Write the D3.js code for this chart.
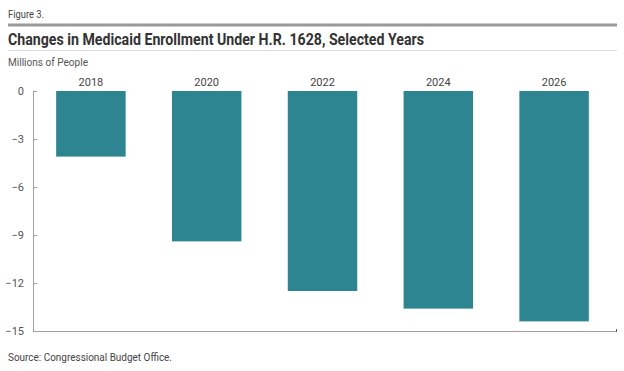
<!DOCTYPE html>
<html>
<head>
<meta charset="utf-8">
<script src="https://cdn.jsdelivr.net/npm/d3@7"></script>
<style>
  body { margin: 0; background: #fff; }
  svg text { font-family: Roboto, "Liberation Sans", sans-serif; }
</style>
</head>
<body>
<script>
const years = ["2018", "2020", "2022", "2024", "2026"];
const enrollmentChange = [-4.1, -9.4, -12.5, -13.6, -14.4];
const yTicks = [0, -3, -6, -9, -12, -15];

const width = 624,
  height = 371,
  margin = { top: 91, right: 12, bottom: 40, left: 33 };

const svg = d3
  .select("body")
  .append("svg")
  .attr("width", width)
  .attr("height", height);

// header
svg.append("text")
  .attr("x", 8).attr("y", 18)
  .attr("font-size", 11).attr("fill", "#444")
  .attr("textLength", 36).attr("lengthAdjust", "spacingAndGlyphs")
  .text("Figure 3.");

svg.append("line")
  .attr("x1", 8).attr("x2", 617).attr("y1", 25).attr("y2", 25)
  .attr("stroke", "#9a9a9a").attr("stroke-width", 3);

svg.append("text")
  .attr("x", 8).attr("y", 45)
  .attr("font-size", 16).attr("font-weight", "bold").attr("fill", "#333")
  .attr("textLength", 416).attr("lengthAdjust", "spacingAndGlyphs")
  .text("Changes in Medicaid Enrollment Under H.R. 1628, Selected Years");

svg.append("line")
  .attr("x1", 8).attr("x2", 617).attr("y1", 50.5).attr("y2", 50.5)
  .attr("stroke", "#dddddd").attr("stroke-width", 1);

svg.append("text")
  .attr("x", 8).attr("y", 66)
  .attr("font-size", 10.5).attr("fill", "#555")
  .attr("textLength", 80).attr("lengthAdjust", "spacingAndGlyphs")
  .text("Millions of People");

const x = d3
  .scaleBand()
  .domain(years)
  .range([margin.left, 612])
  .paddingInner(0.4)
  .paddingOuter(0.2);

const y = d3
  .scaleLinear()
  .domain([0, -15])
  .range([margin.top, 331]);

// bars
svg.selectAll("rect.bar")
  .data(years)
  .enter()
  .append("rect")
  .attr("class", "bar")
  .attr("x", d => x(d))
  .attr("y", y(0))
  .attr("width", x.bandwidth())
  .attr("height", (d, i) => y(enrollmentChange[i]) - y(0))
  .attr("fill", "#2e8592");

// year labels above bars
svg.selectAll("text.year")
  .data(years)
  .enter()
  .append("text")
  .attr("class", "year")
  .attr("x", d => x(d) + x.bandwidth() / 2)
  .attr("y", 86)
  .attr("text-anchor", "middle")
  .attr("font-size", 11)
  .attr("fill", "#444")
  .text(d => d);

// y axis
const yAxis = svg.append("g")
  .attr("transform", `translate(${margin.left},0)`)
  .call(
    d3.axisLeft(y)
      .tickValues(yTicks)
      .tickSize(-4)
      .tickPadding(9)
      .tickFormat(d => d === 0 ? "0" : "\u2212" + Math.abs(d))
  );
yAxis.select(".domain").attr("stroke", "#a0a0a0");
yAxis.selectAll(".tick line").attr("stroke", "#a0a0a0");
yAxis.selectAll(".tick text")
  .attr("font-size", 11)
  .attr("fill", "#555")
  .style("font-family", "Roboto, sans-serif");

// bottom baseline
svg.append("line")
  .attr("x1", margin.left).attr("x2", 617)
  .attr("y1", y(-15) + 0.5).attr("y2", y(-15) + 0.5)
  .attr("stroke", "#a0a0a0");
svg.append("line")
  .attr("x1", 616.5).attr("x2", 616.5)
  .attr("y1", y(-15) - 2).attr("y2", y(-15) + 1)
  .attr("stroke", "#555");

svg.append("text")
  .attr("x", 8).attr("y", 361)
  .attr("font-size", 11).attr("fill", "#444")
  .attr("textLength", 164).attr("lengthAdjust", "spacingAndGlyphs")
  .text("Source: Congressional Budget Office.");
</script>
</body>
</html>
